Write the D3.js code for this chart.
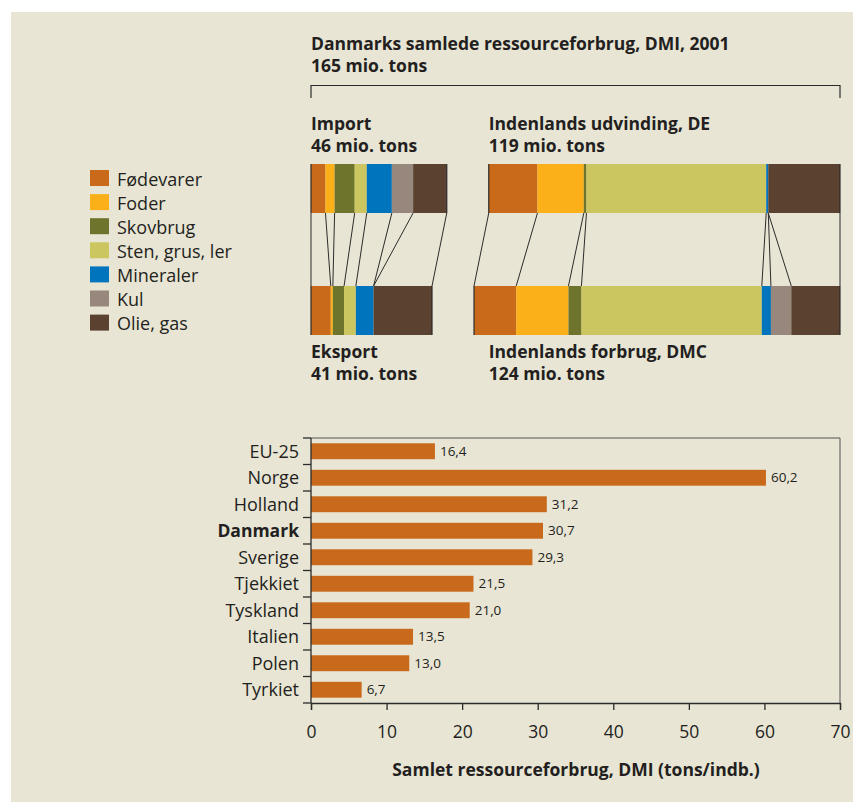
<!DOCTYPE html>
<html>
<head>
<meta charset="utf-8">
<script src="https://cdn.jsdelivr.net/npm/d3@7"></script>
<style>
body { margin: 0; background: #fff; }
text { font-family: "Open Sans", "Noto Sans", sans-serif; fill: #231f20; }
</style>
</head>
<body>
<div id="chart"></div>
<script>
//////////////////////////////////////////////////////////////////////////////
// Data

var materials = ["Fødevarer", "Foder", "Skovbrug", "Sten, grus, ler", "Mineraler", "Kul", "Olie, gas"];
var materialColors = ["#c96a1b", "#fbb01a", "#6f742c", "#cbc65f", "#0074bd", "#98877c", "#5a4130"];

// mio. tons per material
var importValues  = [4.9, 3.1, 6.8, 4.1, 8.5, 7.2, 11.4];
var deValues      = [16.5, 15.7, 0.9, 60.9, 0.7, 0.0, 24.3];
var eksportValues = [6.7, 0.7, 3.8, 4.0, 6.0, 0.0, 19.8];
var dmcValues     = [14.3, 17.7, 4.4, 61.1, 3.1, 6.9, 16.5];

var countries = ["EU-25", "Norge", "Holland", "Danmark", "Sverige", "Tjekkiet", "Tyskland", "Italien", "Polen", "Tyrkiet"];
var dmiPerCapita = [16.4, 60.2, 31.2, 30.7, 29.3, 21.5, 21.0, 13.5, 13.0, 6.7];
var xTicks = [0, 10, 20, 30, 40, 50, 60, 70];

//////////////////////////////////////////////////////////////////////////////
// Preliminaries

var width = 853, height = 802;
var left = 311, right = 840;
var barColor = "#c9691b";
var fmt = function(v) { return d3.format(".1f")(v).replace(".", ","); };

var svg = d3.select("#chart").append("svg")
    .attr("width", width)
    .attr("height", height);

svg.append("rect")
    .attr("x", 11).attr("y", 12)
    .attr("width", width - 11).attr("height", height - 12)
    .attr("fill", "#e8e5d4");

function label(g, x, y, lines) {
    var t = g.append("text").attr("x", x).attr("y", y)
        .style("font-size", "17.5px").style("font-weight", "bold");
    lines.forEach(function(s, i) {
        t.append("tspan").attr("x", x).attr("dy", i ? 22 : 0).text(s);
    });
    return t;
}

//////////////////////////////////////////////////////////////////////////////
// Top: flow of material

var tons = d3.scaleLinear().domain([0, 165]).range([0, 487]);

function stackOf(values, x0) {
    var cum = [x0];
    values.forEach(function(v, i) { cum.push(cum[i] + tons(v)); });
    return cum;
}

function drawBar(cum, y, h) {
    svg.append("g")
        .selectAll("rect")
        .data(d3.range(materials.length))
        .enter()
        .append("rect")
        .attr("x", function(i) { return cum[i]; })
        .attr("y", y)
        .attr("width", function(i) { return cum[i + 1] - cum[i]; })
        .attr("height", h)
        .attr("fill", function(i) { return materialColors[i]; });
}

var topY = 164, botY = 286, barH = 49;

var impCum = stackOf(importValues, left);
var deCum  = stackOf(deValues, right - tons(d3.sum(deValues)));
var ekCum  = stackOf(eksportValues, left);
var dmcCum = stackOf(dmcValues, right - tons(d3.sum(dmcValues)));

function connectors(a, b) {
    svg.append("g")
        .selectAll("line")
        .data(d3.range(a.length))
        .enter()
        .append("line")
        .attr("x1", function(i) { return a[i]; })
        .attr("y1", topY + barH)
        .attr("x2", function(i) { return b[i]; })
        .attr("y2", botY)
        .attr("stroke", "#2b2b2b")
        .attr("stroke-width", 1);
}

connectors(impCum, ekCum);
connectors(deCum, dmcCum);

drawBar(impCum, topY, barH);
drawBar(deCum, topY, barH);
drawBar(ekCum, botY, barH);
drawBar(dmcCum, botY, barH);

// outer edges
function edge(x, y1, y2) {
    svg.append("line")
        .attr("x1", x).attr("x2", x).attr("y1", y1).attr("y2", y2)
        .attr("stroke", "#2b2b2b").attr("stroke-width", 1.2);
}
edge(impCum[0], topY, topY + barH);
edge(impCum[impCum.length - 1], topY, topY + barH);
edge(ekCum[0], botY, botY + barH);
edge(ekCum[ekCum.length - 1], botY, botY + barH);
edge(deCum[0], topY, topY + barH);
edge(deCum[deCum.length - 1], topY, topY + barH);
edge(dmcCum[0], botY, botY + barH);
edge(dmcCum[dmcCum.length - 1], botY, botY + barH);

// bracket
svg.append("path")
    .attr("d", "M" + left + ",98 V85.5 H" + right + " V98")
    .attr("fill", "none")
    .attr("stroke", "#2b2b2b")
    .attr("stroke-width", 1.2);

label(svg, left, 50, ["Danmarks samlede ressourceforbrug, DMI, 2001", "165 mio. tons"]);
label(svg, left, 130, ["Import", "46 mio. tons"]);
label(svg, deCum[0], 130, ["Indenlands udvinding, DE", "119 mio. tons"]);
label(svg, left, 358, ["Eksport", "41 mio. tons"]);
label(svg, deCum[0], 358, ["Indenlands forbrug, DMC", "124 mio. tons"]);

// legend
var legend = svg.append("g")
    .selectAll("g")
    .data(materials)
    .enter()
    .append("g")
    .attr("transform", function(d, i) { return "translate(90," + (170 + i * 24.1) + ")"; });

legend.append("rect")
    .attr("width", 19).attr("height", 16)
    .attr("fill", function(d, i) { return materialColors[i]; });

legend.append("text")
    .attr("x", 27).attr("y", 15.5)
    .style("font-size", "18px")
    .text(function(d) { return d; });

//////////////////////////////////////////////////////////////////////////////
// Bottom: DMI per inhabitant

var plotTop = 438, plotBottom = 703;

var x = d3.scaleLinear().domain([0, 70]).range([left, right]);
var y = d3.scaleBand().domain(countries).range([plotTop, plotBottom])
    .paddingInner(0.4).paddingOuter(0.2);

var rows = countries.map(function(c, i) { return { name: c, value: dmiPerCapita[i] }; });

// frame top + right
svg.append("path")
    .attr("d", "M" + left + "," + plotTop + " H" + right + " V" + plotBottom)
    .attr("fill", "none")
    .attr("stroke", "#555")
    .attr("stroke-width", 1);

svg.append("g")
    .selectAll("rect")
    .data(rows)
    .enter()
    .append("rect")
    .attr("x", x(0))
    .attr("y", function(d) { return y(d.name); })
    .attr("width", function(d) { return x(d.value) - x(0); })
    .attr("height", y.bandwidth())
    .attr("fill", barColor);

svg.append("g")
    .selectAll("text")
    .data(rows)
    .enter()
    .append("text")
    .attr("x", function(d) { return x(d.value) + 5; })
    .attr("y", function(d) { return y(d.name) + y.bandwidth() / 2; })
    .attr("dy", "0.35em")
    .style("font-size", "13.5px")
    .text(function(d) { return fmt(d.value); });

// category labels
svg.append("g")
    .selectAll("text")
    .data(rows)
    .enter()
    .append("text")
    .attr("x", 299)
    .attr("y", function(d) { return y(d.name) + y.bandwidth() / 2; })
    .attr("dy", "0.36em")
    .attr("text-anchor", "end")
    .style("font-size", function(d) { return d.name === "Danmark" ? "17.5px" : "18px"; })
    .style("font-weight", function(d) { return d.name === "Danmark" ? "bold" : "normal"; })
    .text(function(d) { return d.name; });

// y axis line with ticks between bars
var step = y.step();
svg.append("line")
    .attr("x1", left).attr("x2", left)
    .attr("y1", plotTop).attr("y2", plotBottom)
    .attr("stroke", "#2b2b2b").attr("stroke-width", 1.3);

svg.append("g")
    .selectAll("line")
    .data(d3.range(countries.length + 1))
    .enter()
    .append("line")
    .attr("x1", left - 8).attr("x2", left)
    .attr("y1", function(i) { return plotTop + i * step; })
    .attr("y2", function(i) { return plotTop + i * step; })
    .attr("stroke", "#2b2b2b").attr("stroke-width", 1.3);

var xAxis = svg.append("g")
    .attr("transform", "translate(0," + plotBottom + ")")
    .call(d3.axisBottom(x).tickValues(xTicks).tickSize(7).tickPadding(16).tickFormat(d3.format("d")));

xAxis.select(".domain").attr("stroke", "#2b2b2b").attr("stroke-width", 1.3);
xAxis.selectAll(".tick line").attr("stroke", "#2b2b2b").attr("stroke-width", 1.3);
xAxis.selectAll(".tick text")
    .style("font-family", "'Open Sans', 'Noto Sans', sans-serif")
    .style("font-size", "17.5px")
    .attr("fill", "#231f20");

svg.append("text")
    .attr("x", 576).attr("y", 776)
    .attr("text-anchor", "middle")
    .style("font-size", "17.5px")
    .style("font-weight", "bold")
    .text("Samlet ressourceforbrug, DMI (tons/indb.)");
</script>
</body>
</html>
